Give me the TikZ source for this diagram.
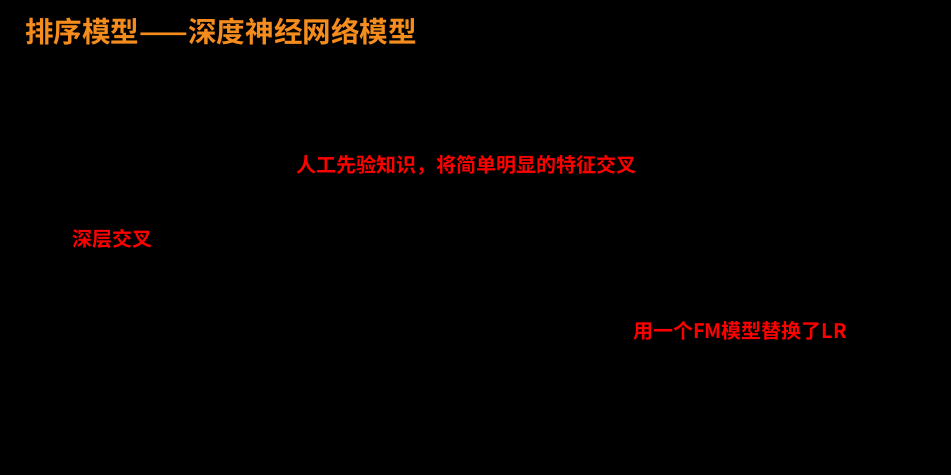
\documentclass[tikz,border=0pt]{standalone}
\usepackage{fontspec}
\newfontfamily\cjk{Noto Sans CJK SC Bold}
\definecolor{titleorange}{RGB}{245,140,30}

\begin{document}
\begin{tikzpicture}[x=1pt, y=-1pt, font=\cjk]
  \tikzset{
    titletext/.style={text=titleorange, inner sep=0pt, anchor=west, font=\cjk\fontsize{28.6}{30}\selectfont},
    note/.style={text=red, inner sep=0pt, font=\cjk\fontsize{20}{22}\selectfont}
  }

  % Achtergrond
  \fill[black] (0,0) rectangle (951,475);
  \useasboundingbox (0,0) rectangle (951,475);

  % Titel
  \node[titletext] (title) at (25,31) {排序模型——深度神经网络模型};

  % Opmerkingen
  \node[note] (wide) at (466,165) {人工先验知识，将简单明显的特征交叉};
  \node[note] (deep) at (112,239) {深层交叉};
  \node[note] (fm) at (740,331) {用一个FM模型替换了LR};
\end{tikzpicture}
\end{document}
